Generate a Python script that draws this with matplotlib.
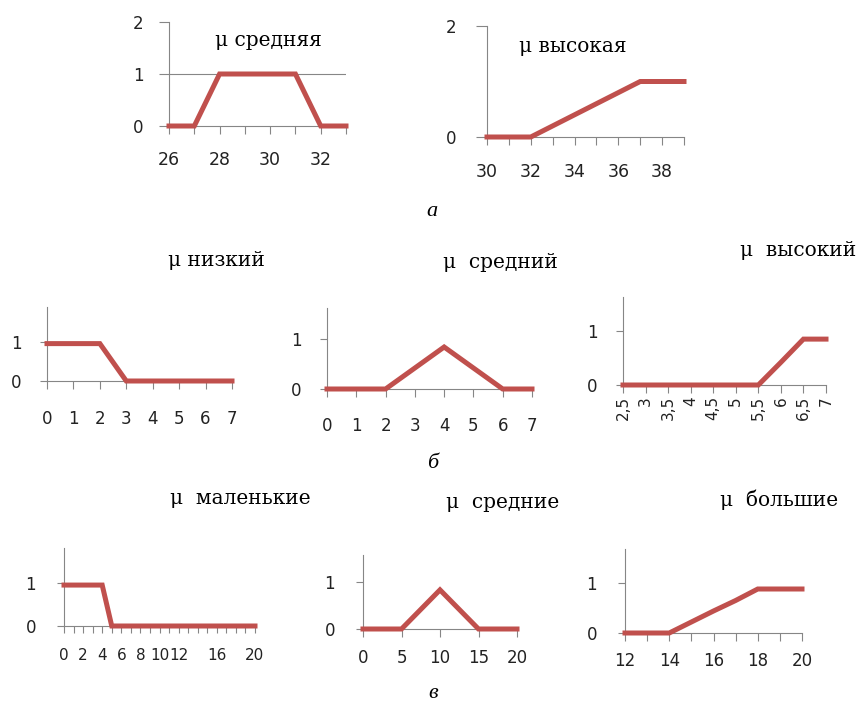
import matplotlib
matplotlib.use('Agg')
import matplotlib.pyplot as plt

# membership functions
a1_x = [26, 27, 28, 29, 30, 31, 32, 33]
a1_mu = [0, 0, 1, 1, 1, 1, 0, 0]

a2_x = [30, 31, 32, 33, 34, 35, 36, 37, 38, 39]
a2_mu = [0, 0, 0, 0.2, 0.4, 0.6, 0.8, 1, 1, 1]

b1_x = [0, 1, 2, 3, 4, 5, 6, 7]
b1_mu = [0.96, 0.96, 0.96, 0, 0, 0, 0, 0]

b2_x = [0, 1, 2, 3, 4, 5, 6, 7]
b2_mu = [0, 0, 0, 0.42, 0.84, 0.42, 0, 0]

b3_x = ['2,5', '3', '3,5', '4', '4,5', '5', '5,5', '6', '6,5', '7']
b3_mu = [0, 0, 0, 0, 0, 0, 0, 0.42, 0.85, 0.85]

c1_x = [0, 1, 2, 3, 4, 5, 6, 7, 8, 9, 10, 11, 12, 13, 14, 15, 16, 17, 18, 19, 20]
c1_mu = [0.95, 0.95, 0.95, 0.95, 0.95, 0, 0, 0, 0, 0, 0, 0, 0, 0, 0, 0, 0, 0, 0, 0, 0]
c1_labels = [0, 2, 4, 6, 8, 10, 12, 16, 20]

c2_x = [0, 5, 10, 15, 20]
c2_mu = [0, 0, 0.83, 0, 0]

c3_x = [12, 13, 14, 15, 16, 17, 18, 19, 20]
c3_mu = [0, 0, 0, 0.22, 0.44, 0.65, 0.88, 0.88, 0.88]

red = '#C0504D'
gray = '#868686'
W, H = 864, 709

fig = plt.figure(figsize=(W / 100, H / 100), dpi=100)


def panel(left, top, right, bottom, ytop):
    ax = fig.add_axes([left / W, 1 - bottom / H, (right - left) / W, (bottom - top) / H])
    ax.set_ylim(0, ytop)
    ax.spines[['top', 'right']].set_visible(False)
    for s in ('left', 'bottom'):
        ax.spines[s].set_color(gray)
        ax.spines[s].set_linewidth(0.8)
    ax.tick_params(axis='y', length=5, width=0.8, color=gray, pad=15,
                   labelsize=12, labelcolor='#222222')
    ax.tick_params(axis='x', length=6, width=0.8, color=gray,
                   labelsize=12, labelcolor='#222222')
    return ax


def curve(ax, x, y):
    ax.plot(x, y, color=red, lw=3.6, clip_on=False, zorder=3,
            solid_joinstyle='miter')


# --- а ---
ax = panel(169, 22, 346, 126, 2)
curve(ax, a1_x, a1_mu)
ax.set_xlim(a1_x[0], a1_x[-1])
ax.set_xticks(a1_x, [str(v) if v % 2 == 0 else '' for v in a1_x])
ax.set_yticks([0, 1, 2])
ax.axhline(1, color=gray, lw=0.8, zorder=1)
ax.tick_params(axis='y', length=7, pad=11.5)
ax.tick_params(axis='x', labelsize=12.5, pad=12)

ax = panel(487, 26, 684, 137, 2)
curve(ax, a2_x, a2_mu)
ax.set_xlim(a2_x[0], a2_x[-1])
ax.set_xticks(a2_x, [str(v) if v % 2 == 0 else '' for v in a2_x])
ax.set_yticks([0, 2])
ax.tick_params(axis='y', length=8, pad=14)
ax.tick_params(axis='x', labelsize=12.5, pad=12.5)

# --- б ---
ax = panel(47, 307, 232, 381, 1.9)
curve(ax, b1_x, b1_mu)
ax.set_xlim(b1_x[0], b1_x[-1])
ax.set_xticks(b1_x)
ax.set_yticks([0, 1])
ax.tick_params(axis='y', pad=13.5)
ax.tick_params(axis='x', pad=15)

ax = panel(327, 308, 532, 389, 1.62)
curve(ax, b2_x, b2_mu)
ax.set_xlim(b2_x[0], b2_x[-1])
ax.set_xticks(b2_x)
ax.set_yticks([0, 1])
ax.tick_params(axis='y', pad=13.5)
ax.tick_params(axis='x', pad=14.5)

ax = panel(623, 297, 826, 385, 1.63)
curve(ax, b3_x, b3_mu)
ax.set_xlim(0, len(b3_x) - 1)
ax.set_yticks([0, 1])
ax.tick_params(axis='y', pad=13.5)
ax.tick_params(axis='x', labelsize=11, labelrotation=90, pad=2)

# --- в ---
ax = panel(64, 548, 255, 626, 1.81)
curve(ax, c1_x, c1_mu)
ax.set_xlim(c1_x[0], c1_x[-1])
ax.set_xticks(c1_x, [str(v) if v in c1_labels else '' for v in c1_x])
ax.set_yticks([0, 1])
ax.tick_params(axis='x', labelsize=11, length=5, pad=11)

ax = panel(363, 555, 517, 629, 1.57)
curve(ax, c2_x, c2_mu)
ax.set_xlim(c2_x[0], c2_x[-1])
ax.set_xticks(c2_x)
ax.set_yticks([0, 1])
ax.tick_params(axis='x', pad=8.5)

ax = panel(625, 549, 802, 633, 1.68)
curve(ax, c3_x, c3_mu)
ax.set_xlim(c3_x[0], c3_x[-1])
ax.set_xticks(c3_x, [str(v) if v % 2 == 0 else '' for v in c3_x])
ax.set_yticks([0, 1])
ax.tick_params(axis='x', pad=8)

# titles
titles = [
    (215, 40, 'μ средняя'),
    (519, 46, 'μ высокая'),
    (168, 260, 'μ низкий'),
    (443, 262, 'μ  средний'),
    (740, 250, 'μ  высокий'),
    (170, 498, 'μ  маленькие'),
    (446, 503, 'μ  средние'),
    (720, 500, 'μ  большие'),
]
for x, y, t in titles:
    fig.text(x / W, 1 - y / H, t, family='DejaVu Serif', fontsize=14.5,
             ha='left', va='center', color='black')

for x, y, t in [(432, 212, 'а'), (433, 464, 'б'), (433, 694, 'в')]:
    fig.text(x / W, 1 - y / H, t, family='Liberation Serif', style='italic',
             fontsize=16, ha='center', va='center')

fig.savefig('out.png', dpi=100)
